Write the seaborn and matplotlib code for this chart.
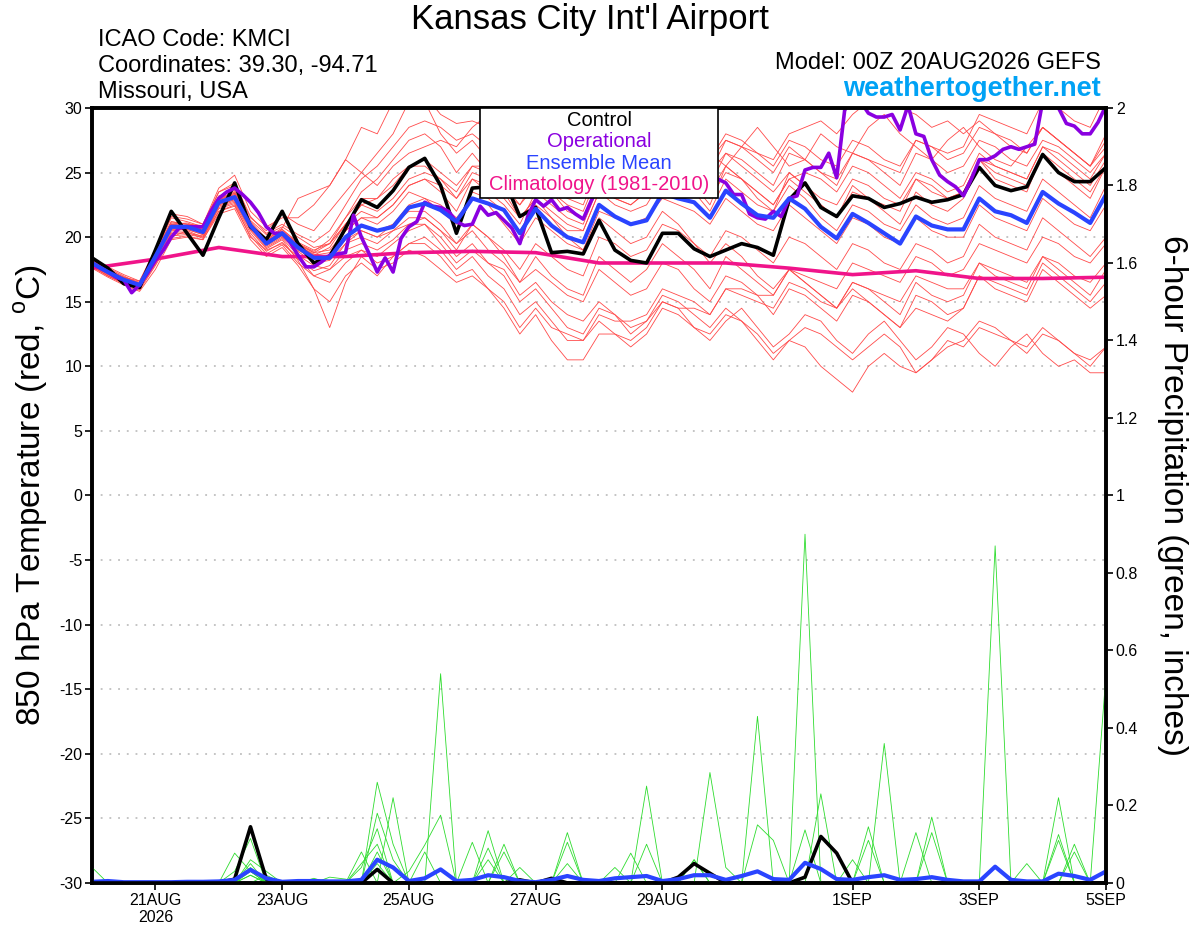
import numpy as np
import pandas as pd
import matplotlib
matplotlib.use("Agg")
import matplotlib.pyplot as plt
import seaborn as sns
from matplotlib.patches import Rectangle

## time axes: GEFS 6-hourly, operational 3-hourly, climatology daily
times = pd.date_range("2026-08-20 00:00", periods=65, freq="6h")
times_op = pd.date_range("2026-08-20 00:00", periods=129, freq="3h")
clim_days = pd.date_range("2026-08-20", periods=17, freq="D")

control_t = [18.4, 17.6, 16.4, 16.1, 19.0, 22.0, 20.3, 18.6, 21.5, 24.2, 20.8, 19.8, 22.0,
             19.5, 18.0, 18.5, 20.7, 22.9, 22.3, 23.6, 25.4, 26.1, 24.0, 20.3, 23.8, 23.9, 24.5,
             21.6, 22.3, 18.8, 18.9, 18.7, 21.3, 19.0, 18.2, 18.0, 20.3, 20.3, 19.1, 18.5, 19.0,
             19.5, 19.2, 18.6, 22.9, 24.2, 22.3, 21.6, 23.2, 23.0, 22.3, 22.6, 23.1, 22.7, 22.9,
             23.3, 25.4, 24.0, 23.6, 23.9, 26.4, 25.0, 24.3, 24.3, 25.4]

mean_t = [18.0, 17.3, 16.7, 16.3, 18.5, 20.8, 20.8, 20.4, 22.7, 23.1, 20.9, 19.5, 20.3,
          19.2, 18.4, 18.4, 20.0, 20.9, 20.5, 20.8, 22.3, 22.6, 22.1, 21.2, 23.0, 22.6, 22.1,
          20.3, 22.2, 20.9, 20.0, 19.6, 22.5, 21.6, 21.0, 21.3, 23.4, 23.0, 22.7, 21.5, 23.6,
          22.6, 21.7, 21.5, 23.0, 22.2, 20.8, 19.9, 21.8, 21.1, 20.3, 19.5, 21.6, 20.9, 20.6,
          20.6, 23.0, 22.0, 21.7, 21.1, 23.5, 22.6, 21.9, 21.1, 23.3]

oper_t = [18.0, 17.6, 17.3, 16.9, 16.7, 15.7, 16.3, 17.2, 18.2, 19.0,
          20.0, 20.7, 20.8, 20.8, 20.8, 22.0, 23.0, 23.5, 23.8, 23.3,
          22.7, 21.9, 20.8, 20.3, 20.3, 19.6, 18.6, 17.7, 17.7, 18.1,
          18.6, 18.7, 18.8, 21.7, 20.0, 18.7, 17.3, 18.4, 17.3, 19.9,
          20.8, 21.2, 22.7, 22.4, 22.3, 22.0, 21.2, 20.9, 21.0, 22.4,
          21.7, 21.9, 21.3, 20.7, 19.5, 21.6, 22.9, 22.4, 22.9, 22.1,
          22.3, 21.8, 21.4, 22.8, 24.0, 24.5, 25.0, 24.8, 25.5, 26.0,
          25.5, 25.0, 24.5, 25.0, 25.5, 26.0, 25.0, 24.5, 24.8, 24.5,
          24.2, 23.3, 23.3, 21.8, 21.5, 21.4, 22.0, 21.6, 23.0, 23.2,
          25.2, 25.4, 25.4, 26.5, 24.6, 29.8, 31.0, 30.5, 29.6, 29.3,
          29.3, 29.5, 28.3, 30.2, 28.0, 27.8, 26.0, 24.8, 24.3, 23.9,
          23.2, 24.5, 26.0, 26.0, 26.3, 26.8, 27.0, 26.8, 27.0, 27.2,
          30.5, 31.0, 30.0, 28.8, 28.6, 28.0, 28.0, 28.9, 30.2]

clim_t = [17.6, 18.3, 19.2, 18.5, 18.5, 18.8, 18.9, 18.8, 18.0, 18.0, 18.0, 17.6,
          17.1, 17.4, 16.8, 16.8, 16.9]

members_t = [
    [18.2, 17.5, 16.8, 16.0, 18.8, 21.5, 21.2, 20.8, 23.5, 24.0, 21.5, 20.5, 21.8,
     21.0, 20.5, 22.0, 23.5, 25.0, 26.5, 28.0, 30.5, 31.0, 29.5, 28.8, 29.0, 28.5, 29.5, 27.0, 28.0, 29.0, 30.5,
     29.0, 27.5, 28.5, 27.0, 26.0, 27.5, 29.0, 28.0, 26.5, 25.5, 27.0, 28.5, 27.0, 25.5, 26.0, 28.0, 27.0,
     26.5, 28.5, 29.5, 28.0, 27.0, 26.0, 27.5, 28.5, 27.0, 26.0, 25.5, 27.0, 28.5, 27.5, 26.5, 25.5, 27.0],
    [17.8, 17.0, 16.5, 16.2, 18.0, 20.0, 20.5, 20.0, 22.0, 22.5, 20.0, 19.0, 19.5,
     18.5, 17.0, 16.5, 18.0, 19.0, 18.5, 19.5, 20.5, 21.0, 20.0, 18.5, 19.5, 18.0, 17.5, 15.5, 16.5, 15.0, 14.0,
     13.5, 15.0, 14.0, 12.5, 13.5, 15.0, 14.5, 13.0, 12.0, 13.5, 14.5, 13.0, 11.5, 12.5, 14.0, 13.5, 12.0,
     11.0, 12.5, 13.5, 12.0, 10.5, 11.5, 13.0, 12.5, 11.0, 10.0, 11.5, 12.5, 11.0, 10.0, 10.5, 9.5, 9.5],
    [18.0, 17.4, 16.9, 16.6, 18.9, 21.2, 21.0, 20.9, 23.2, 23.6, 21.3, 20.2, 20.8,
     20.0, 19.2, 19.5, 21.0, 22.0, 21.5, 22.5, 24.0, 24.5, 23.5, 22.0, 24.5, 24.0, 23.0, 21.5, 23.0, 22.0, 21.0,
     20.5, 23.5, 22.5, 22.0, 22.5, 24.5, 24.0, 23.5, 22.0, 24.5, 23.5, 22.5, 22.0, 24.0, 23.0, 21.5, 20.5,
     22.5, 22.0, 21.0, 20.5, 22.5, 21.5, 21.0, 21.5, 24.0, 23.0, 22.5, 22.0, 24.5, 23.5, 22.5, 21.5, 24.0],
    [18.3, 17.6, 17.0, 16.4, 19.0, 21.8, 21.6, 21.0, 23.8, 24.8, 22.0, 20.8, 21.5,
     21.5, 22.5, 24.0, 26.0, 28.5, 28.0, 30.5, 32.0, 30.5, 28.0, 26.5, 27.5, 26.0, 24.5, 23.0, 25.0, 23.5, 22.0,
     21.5, 24.5, 23.0, 22.5, 23.5, 26.0, 25.0, 24.0, 22.5, 25.5, 24.5, 23.0, 22.0, 25.0, 24.0, 22.5, 21.5,
     24.0, 23.0, 22.0, 21.0, 23.5, 22.5, 22.0, 23.0, 26.0, 24.5, 24.0, 23.5, 26.5, 25.0, 24.0, 23.0, 25.5],
    [17.6, 16.9, 16.3, 15.8, 17.5, 19.8, 20.0, 19.8, 21.8, 22.2, 19.8, 18.5, 19.2,
     17.8, 16.0, 15.0, 17.0, 18.0, 17.0, 18.5, 19.5, 20.0, 19.0, 17.5, 18.5, 17.0, 16.0, 14.0, 15.0, 13.5, 12.0,
     12.0, 13.5, 12.5, 11.5, 12.5, 14.5, 14.0, 13.0, 12.5, 14.0, 13.5, 12.5, 11.0, 12.0, 13.0, 12.5, 11.5,
     10.5, 11.5, 12.5, 11.5, 9.5, 10.5, 11.5, 12.0, 13.5, 13.0, 12.0, 11.0, 12.5, 12.0, 11.0, 10.0, 11.5],
    [18.1, 17.3, 16.6, 16.1, 18.4, 20.6, 20.9, 20.6, 22.9, 23.4, 21.0, 19.8, 20.6,
     19.5, 18.8, 19.0, 20.5, 21.5, 21.0, 22.0, 23.5, 23.0, 22.0, 21.0, 23.5, 23.0, 22.0, 20.5, 22.5, 21.5, 20.5,
     20.5, 23.5, 23.0, 22.5, 23.5, 25.5, 25.5, 25.0, 24.0, 26.5, 26.0, 25.0, 24.0, 26.5, 26.0, 25.0, 24.0,
     26.5, 26.0, 25.5, 25.0, 27.5, 27.0, 26.5, 27.0, 29.5, 29.0, 28.5, 28.0, 30.5, 30.0, 29.0, 28.5, 31.0],
    [17.9, 17.1, 16.5, 16.0, 18.2, 20.4, 20.4, 19.9, 22.4, 22.8, 20.6, 19.2, 19.9,
     18.6, 17.8, 17.5, 19.0, 19.5, 19.0, 19.8, 21.0, 21.5, 20.5, 19.0, 21.0, 20.0, 18.5, 16.5, 18.5, 17.0, 16.0,
     15.5, 18.5, 17.5, 16.5, 17.5, 19.5, 18.5, 17.5, 16.0, 18.5, 17.5, 16.5, 15.5, 17.5, 16.5, 15.5, 14.5,
     16.5, 16.0, 15.0, 14.0, 16.5, 15.5, 15.0, 15.5, 18.0, 17.0, 16.5, 16.0, 18.5, 17.5, 16.5, 15.5, 17.5],
    [18.2, 17.4, 16.8, 16.3, 18.6, 21.0, 21.1, 20.7, 23.0, 23.5, 21.2, 19.9, 20.7,
     23.0, 23.5, 24.0, 26.0, 25.0, 24.0, 25.5, 26.5, 27.0, 27.5, 27.0, 28.5, 29.5, 28.0, 27.0, 29.5, 30.5, 29.0,
     28.0, 30.5, 29.5, 28.0, 27.0, 28.5, 27.5, 26.0, 25.0, 26.5, 25.5, 24.5, 23.5, 25.0, 24.0, 23.0, 22.5,
     24.5, 24.0, 23.0, 22.5, 24.5, 23.5, 23.0, 23.5, 26.0, 25.5, 25.0, 24.5, 27.0, 26.0, 25.0, 24.0, 26.0],
    [17.7, 17.0, 16.4, 16.0, 17.9, 20.1, 20.2, 20.0, 22.2, 22.6, 20.3, 18.9, 19.6,
     18.3, 17.4, 17.8, 19.5, 20.0, 19.5, 20.5, 21.0, 21.0, 19.5, 18.0, 19.0, 18.0, 17.0, 15.0, 16.0, 14.5, 13.0,
     12.5, 14.5, 14.0, 13.0, 13.5, 15.5, 15.0, 14.0, 13.0, 14.5, 13.5, 12.0, 10.5, 12.0, 11.5, 10.0, 9.0,
     8.0, 10.0, 11.0, 10.0, 9.5, 10.5, 12.0, 11.5, 13.0, 12.5, 12.0, 11.5, 13.0, 12.0, 11.0, 10.5, 11.5],
    [18.0, 17.2, 16.7, 16.4, 18.5, 20.9, 20.7, 20.3, 22.7, 23.0, 20.8, 19.6, 20.4,
     19.3, 18.7, 18.5, 20.0, 21.0, 20.5, 21.0, 22.5, 23.0, 22.5, 21.5, 23.0, 22.5, 21.0, 19.5, 21.5, 20.5, 19.5,
     19.0, 22.0, 21.5, 21.0, 21.5, 23.0, 22.5, 22.0, 21.0, 23.0, 22.0, 21.0, 20.5, 22.5, 21.5, 20.5, 19.5,
     21.5, 21.0, 20.0, 19.5, 21.5, 20.5, 20.0, 20.0, 22.5, 21.5, 21.0, 20.5, 23.0, 22.0, 21.0, 20.5, 22.5],
    [18.3, 17.5, 16.9, 16.5, 18.7, 21.1, 21.0, 20.6, 22.9, 23.3, 21.1, 19.7, 20.5,
     19.4, 18.6, 18.8, 20.5, 21.5, 21.5, 22.5, 24.0, 24.5, 24.0, 23.0, 25.0, 24.5, 23.5, 22.5, 24.5, 24.0, 23.0,
     22.5, 25.5, 25.0, 24.5, 25.0, 27.0, 26.5, 26.0, 25.0, 27.5, 27.0, 26.5, 26.0, 28.0, 28.5, 29.0, 28.0,
     29.5, 30.5, 31.0, 30.0, 29.5, 28.5, 29.0, 28.0, 29.0, 28.0, 27.5, 26.5, 28.5, 27.5, 26.5, 25.5, 27.5],
    [17.8, 17.1, 16.6, 16.2, 18.1, 20.3, 20.3, 20.1, 22.3, 22.7, 20.5, 19.1, 19.8,
     18.2, 16.0, 13.0, 16.5, 18.5, 17.5, 18.0, 19.0, 18.5, 17.5, 16.5, 17.0, 16.0, 15.0, 13.0, 14.5, 13.0, 12.5,
     12.0, 14.0, 13.5, 13.5, 14.0, 16.0, 15.5, 15.0, 14.0, 16.0, 15.5, 15.0, 14.5, 16.5, 16.0, 15.0, 14.5,
     16.5, 16.0, 15.5, 15.0, 17.0, 16.5, 16.0, 16.0, 18.0, 17.5, 17.0, 16.5, 18.5, 18.0, 17.0, 16.5, 18.0],
    [18.1, 17.4, 16.8, 16.4, 18.6, 21.0, 20.9, 20.5, 22.8, 23.2, 21.0, 19.7, 20.4,
     19.3, 18.6, 19.2, 21.0, 22.5, 23.0, 24.5, 25.5, 26.0, 25.0, 24.0, 25.5, 25.0, 24.0, 22.5, 24.0, 23.5, 22.5,
     22.0, 25.0, 24.5, 23.5, 24.0, 26.0, 25.5, 24.5, 23.5, 25.5, 24.5, 23.5, 22.5, 24.5, 23.5, 22.5, 21.5,
     23.5, 23.0, 22.5, 22.0, 24.5, 24.0, 23.0, 23.5, 26.0, 25.0, 24.5, 24.0, 26.5, 25.5, 24.5, 23.5, 25.5],
    [17.9, 17.2, 16.6, 16.2, 18.3, 20.5, 20.6, 20.2, 22.5, 22.9, 20.7, 19.3, 20.0,
     18.9, 18.0, 18.2, 19.5, 20.5, 20.0, 21.0, 22.0, 22.0, 21.0, 19.5, 20.5, 19.0, 18.0, 16.5, 17.5, 16.5, 15.5,
     15.0, 17.5, 16.5, 15.5, 16.0, 18.0, 17.5, 16.0, 15.0, 17.0, 16.5, 15.5, 14.0, 16.0, 15.5, 14.5, 13.5,
     15.5, 15.0, 14.0, 13.0, 15.5, 15.0, 14.0, 14.5, 17.0, 16.0, 15.5, 15.0, 17.5, 16.5, 15.5, 14.5, 15.5],
    [18.2, 17.5, 16.9, 16.4, 18.7, 21.2, 21.0, 20.6, 23.0, 23.4, 21.1, 19.8, 20.6,
     19.6, 19.0, 19.5, 21.5, 23.5, 24.5, 26.0, 27.5, 28.0, 27.0, 25.0, 26.5, 25.0, 23.5, 21.5, 23.0, 21.5, 20.0,
     19.0, 21.5, 20.5, 19.5, 20.0, 22.0, 21.0, 19.5, 18.0, 19.5, 18.5, 17.0, 16.0, 17.5, 16.5, 15.5, 14.5,
     16.0, 15.0, 14.0, 13.0, 14.5, 14.0, 13.5, 14.5, 17.0, 16.5, 16.0, 15.5, 18.0, 17.0, 16.0, 15.0, 16.5],
    [18.0, 17.3, 16.7, 16.3, 18.5, 20.9, 20.9, 20.5, 22.9, 23.3, 21.0, 19.6, 20.4,
     19.4, 18.8, 19.5, 21.0, 22.5, 22.0, 23.0, 24.5, 25.0, 24.5, 23.5, 25.5, 25.5, 24.5, 23.5, 25.5, 25.0, 24.5,
     24.0, 27.0, 26.5, 26.0, 26.5, 28.5, 28.0, 27.0, 26.0, 28.0, 27.5, 26.5, 25.5, 27.5, 27.0, 26.0, 25.5,
     27.5, 27.0, 26.0, 25.5, 27.5, 27.0, 26.0, 26.5, 28.5, 28.0, 27.0, 26.5, 28.5, 27.5, 26.5, 25.5, 28.0],
    [17.9, 17.2, 16.6, 16.3, 18.4, 20.6, 20.6, 20.2, 22.5, 22.9, 20.7, 19.4, 20.1,
     19.0, 18.3, 18.3, 19.8, 20.5, 20.0, 20.5, 21.5, 21.5, 20.5, 19.5, 21.0, 20.0, 19.0, 17.5, 19.5, 18.5, 17.5,
     17.0, 20.0, 19.5, 18.5, 19.0, 21.0, 20.5, 19.5, 18.5, 20.5, 20.0, 19.0, 18.0, 20.0, 19.5, 18.5, 17.5,
     19.5, 19.0, 18.0, 17.5, 19.5, 19.0, 18.0, 18.5, 21.0, 20.0, 19.5, 19.0, 21.5, 20.5, 19.5, 18.5, 20.0],
    [18.4, 17.7, 17.1, 16.6, 19.1, 21.6, 21.4, 21.0, 23.5, 24.2, 21.6, 20.3, 21.0,
     20.2, 19.6, 20.5, 22.5, 24.5, 25.5, 27.0, 28.5, 29.0, 28.5, 27.5, 28.0, 27.0, 26.5, 25.0, 27.0, 26.5, 25.5,
     25.0, 27.5, 27.0, 26.0, 26.5, 28.5, 28.0, 27.0, 26.0, 27.5, 27.0, 26.0, 25.0, 27.0, 26.0, 25.0, 24.5,
     26.5, 26.0, 25.0, 24.0, 26.5, 26.0, 25.0, 25.5, 27.5, 27.0, 26.0, 25.5, 27.5, 27.0, 26.0, 25.0, 26.5],
    [17.7, 17.0, 16.4, 15.9, 17.8, 19.9, 20.1, 19.8, 22.0, 22.4, 20.1, 18.7, 19.4,
     18.0, 17.0, 17.5, 18.5, 19.0, 18.0, 18.5, 19.5, 19.5, 18.5, 17.0, 17.5, 16.0, 14.5, 12.5, 14.0, 12.0, 10.5,
     10.5, 12.5, 12.5, 12.0, 13.0, 15.0, 14.5, 14.5, 14.0, 16.0, 16.0, 15.5, 15.5, 17.5, 17.0, 16.5, 16.0,
     18.0, 17.5, 17.0, 16.5, 18.5, 18.0, 17.0, 17.5, 19.5, 19.0, 18.5, 18.0, 20.0, 19.5, 18.5, 18.0, 19.5],
    [18.1, 17.4, 16.8, 16.4, 18.6, 21.0, 20.8, 20.4, 22.7, 23.2, 21.0, 19.6, 20.4,
     19.5, 18.9, 19.8, 21.5, 23.0, 23.0, 24.0, 25.5, 25.5, 24.5, 23.0, 24.5, 23.5, 22.5, 21.0, 23.5, 22.5, 21.5,
     21.0, 24.0, 23.5, 23.0, 24.0, 26.0, 25.0, 24.5, 23.0, 25.0, 24.5, 23.5, 22.5, 24.5, 25.0, 24.5, 23.5,
     25.5, 25.0, 24.0, 23.0, 25.0, 24.5, 23.5, 24.0, 26.5, 25.5, 25.0, 24.5, 27.0, 26.5, 25.5, 24.5, 26.5],
]

## 6-hour precipitation (inches), step index -> amount, zero elsewhere
control_p = {9: 0.01, 10: 0.145, 11: 0.01, 18: 0.035, 27: 0.008, 29: 0.012,
             37: 0.015, 38: 0.05, 39: 0.025, 45: 0.015, 46: 0.12, 47: 0.077}

mean_p = [0.003, 0.005, 0.002, 0.002, 0.002, 0.002, 0.003, 0.003, 0.004, 0.008,
          0.034, 0.012, 0.003, 0.005, 0.005, 0.004, 0.004, 0.008, 0.06, 0.04,
          0.005, 0.012, 0.035, 0.005, 0.008, 0.02, 0.015, 0.005, 0.002, 0.008,
          0.018, 0.008, 0.005, 0.012, 0.015, 0.018, 0.005, 0.01, 0.02, 0.02,
          0.008, 0.018, 0.03, 0.01, 0.008, 0.052, 0.036, 0.01, 0.008, 0.015,
          0.02, 0.008, 0.01, 0.015, 0.008, 0.004, 0.004, 0.042, 0.008, 0.004,
          0.004, 0.024, 0.018, 0.008, 0.03]

members_p = [
    {0: 0.04, 10: 0.02, 24: 0.105, 46: 0.23},
    {9: 0.03, 10: 0.115, 30: 0.105, 52: 0.13},
    {10: 0.06, 11: 0.03, 18: 0.05, 34: 0.077, 61: 0.22},
    {10: 0.05, 25: 0.135, 53: 0.13},
    {10: 0.04, 14: 0.012, 26: 0.1, 48: 0.06},
    {10: 0.03, 18: 0.08, 35: 0.25, 61: 0.11},
    {10: 0.02, 26: 0.08, 49: 0.11},
    {9: 0.077, 10: 0.03, 45: 0.137},
    {11: 0.02, 25: 0.09, 27: 0.04, 62: 0.08},
    {15: 0.015, 16: 0.01, 30: 0.13, 53: 0.17},
    {18: 0.26, 19: 0.1, 42: 0.43},
    {18: 0.18, 19: 0.06, 35: 0.1, 49: 0.145},
    {17: 0.04, 18: 0.14, 33: 0.04, 59: 0.05},
    {17: 0.05, 18: 0.1, 38: 0.06, 62: 0.1},
    {19: 0.22, 39: 0.285, 40: 0.04},
    {17: 0.08, 30: 0.05, 61: 0.125},
    {22: 0.54, 45: 0.9},
    {20: 0.03, 21: 0.098, 22: 0.175, 50: 0.36},
    {21: 0.08, 38: 0.06, 57: 0.87},
    {25: 0.06, 42: 0.15, 43: 0.11, 64: 0.54},
]

tick_dates = pd.to_datetime(["2026-08-21", "2026-08-23", "2026-08-25", "2026-08-27",
                             "2026-08-29", "2026-09-01", "2026-09-03", "2026-09-05"])
tick_names = ["21AUG\n2026", "23AUG", "25AUG", "27AUG", "29AUG", "1SEP", "3SEP", "5SEP"]
legend_items = [("Control", "black"), ("Operational", "#8a00e0"),
                ("Ensemble Mean", "#2a44ff"), ("Climatology (1981-2010)", "#f0148a")]


def full_steps(sparse):
    vals = np.zeros(len(times))
    for k, v in sparse.items():
        vals[k] = v
    return vals


sns.set_style("white", {"axes.edgecolor": "black", "text.color": "black",
                        "xtick.color": "black", "ytick.color": "black"})
plt.rcParams['font.family'] = ['Liberation Sans', 'DejaVu Sans']
plt.rcParams['axes.unicode_minus'] = False
plt.rcParams['mathtext.fontset'] = 'custom'
plt.rcParams['mathtext.rm'] = 'Liberation Sans'

fig = plt.figure(figsize=(12, 9.27), dpi=100)
ax = fig.add_axes([0.0767, 0.0475, 0.845, 0.836])
ax2 = ax.twinx()

## temperature plume
df_t = pd.DataFrame([(m, t, v) for m, vals in enumerate(members_t) for t, v in zip(times, vals)],
                    columns=["member", "time", "temp"])
sns.lineplot(data=df_t, x="time", y="temp", units="member", estimator=None,
             color="#ff4a4a", lw=0.6, ax=ax, legend=False)
sns.lineplot(x=clim_days, y=clim_t, color="#f0148a", lw=2.6, ax=ax)
sns.lineplot(x=times, y=control_t, color="black", lw=2.6, ax=ax)
sns.lineplot(x=times_op, y=oper_t, color="#8a00e0", lw=2.6, ax=ax)
sns.lineplot(x=times, y=mean_t, color="#2a44ff", lw=3.0, ax=ax)

for y in range(-25, 30, 5):
    ax.axhline(y, color="#b4b4b4", ls=(0, (1.2, 4.5)), lw=1.1, zorder=0)

## precipitation plume
df_p = pd.DataFrame([(m, t, v) for m, d in enumerate(members_p) for t, v in zip(times, full_steps(d))],
                    columns=["member", "time", "precip"])
sns.lineplot(data=df_p, x="time", y="precip", units="member", estimator=None,
             color="#2edc2e", lw=0.6, ax=ax2, legend=False)
sns.lineplot(x=times, y=full_steps(control_p), color="black", lw=2.6, ax=ax2)
sns.lineplot(x=times, y=mean_p, color="#2a44ff", lw=3.0, ax=ax2)

ax.set_xlim(times[0], times[-1])
ax2.set_xlim(times[0], times[-1])
ax.set_ylim(-30, 30)
ax2.set_ylim(0, 2)
ax.set_xlabel("")
ax.set_ylabel("")
ax2.set_ylabel("")

ax.set_yticks(range(-30, 31, 5))
ax.set_yticklabels([str(v) for v in range(-30, 31, 5)])
p_ticks = [0, 0.2, 0.4, 0.6, 0.8, 1, 1.2, 1.4, 1.6, 1.8, 2]
ax2.set_yticks(p_ticks)
ax2.set_yticklabels([f"{v:g}" for v in p_ticks])
ax.set_xticks(tick_dates)
ax.set_xticklabels(tick_names)
ax.tick_params(axis="both", direction="out", length=5, width=1.2, labelsize=11.5, pad=2,
               bottom=True, left=True)
ax2.tick_params(axis="y", direction="out", length=5, width=1.2, labelsize=11.5, pad=2, right=True)
for a in (ax, ax2):
    for s in a.spines.values():
        s.set_linewidth(2.6)
        s.set_color("black")

## legend box
ax2.add_patch(Rectangle((0.3826, 0.8839), 0.2348, 0.1161, transform=ax2.transAxes,
                        facecolor="white", edgecolor="black", lw=1.2, zorder=20))
for k, (name, col) in enumerate(legend_items):
    ax2.text(0.5, 0.9845 - k * 0.0278, name, color=col, fontsize=14.5, ha="center",
             va="center", transform=ax2.transAxes, zorder=21)

## header texts
fig.text(0.4917, 0.979, "Kansas City Int'l Airport", fontsize=25, ha="center", va="center")
fig.text(0.0817, 0.9568, "ICAO Code: KMCI", fontsize=17, ha="left", va="center")
fig.text(0.0817, 0.9288, "Coordinates: 39.30, -94.71", fontsize=17, ha="left", va="center")
fig.text(0.0817, 0.9008, "Missouri, USA", fontsize=17, ha="left", va="center")
fig.text(0.9175, 0.932, "Model: 00Z 20AUG2026 GEFS", fontsize=17, ha="right", va="center")
fig.text(0.9175, 0.904, "weathertogether.net", fontsize=19.5, fontweight="bold",
         color="#00a2f5", ha="right", va="center")
fig.text(0.026, 0.466, r"850 hPa Temperature (red, $^{\mathrm{o}}$C)", fontsize=24,
         rotation=90, ha="center", va="center")
fig.text(0.977, 0.466, "6-hour Precipitation (green, inches)", fontsize=24,
         rotation=270, ha="center", va="center")

fig.savefig("out.png", dpi=100)
